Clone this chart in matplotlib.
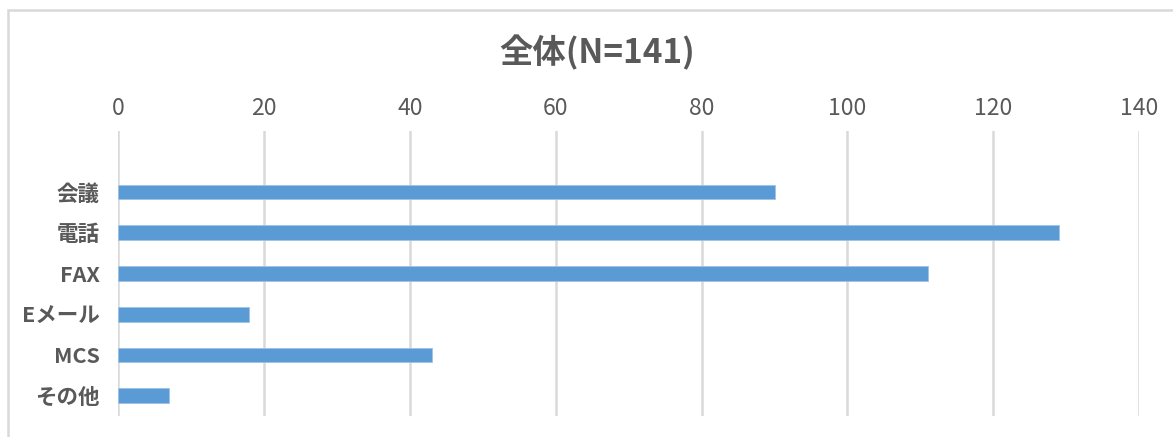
import matplotlib.pyplot as plt
from matplotlib.patches import Rectangle

plt.rcParams['font.family'] = ['Noto Sans CJK JP', 'DejaVu Sans']

# 回答件数
labels = ['会議', '電話', 'FAX', 'Eメール', 'MCS', 'その他']
counts = [90, 129, 111, 18, 43, 7]
ticks = [0, 20, 40, 60, 80, 100, 120, 140]

gray = '#595959'
fig = plt.figure(figsize=(11.73, 4.37), dpi=100)
ax = fig.add_axes([118 / 1173, 21 / 437, (1139.3 - 118) / 1173, (416 - 131) / 437])

# 外枠
fig.patches.append(Rectangle((8 / 1173, -0.1), 1.2, 1 - 10 / 437 + 0.1,
                             transform=fig.transFigure, fill=False,
                             edgecolor='#d9d9d9', linewidth=1.8))

pos = list(range(1, len(labels) + 1))
ax.barh(pos, counts, height=0.36, color='#5b9bd5', edgecolor='#9dc3e6', linewidth=0.6, zorder=3)
ax.set_ylim(6.5, -0.5)
ax.set_xlim(0, 140)

ax.set_yticks(pos)
ax.set_yticklabels(labels, fontsize=15.5, fontweight='bold', color=gray)
ax.set_xticks(ticks)
ax.set_xticklabels([str(t) for t in ticks], fontsize=16.5, color=gray)
ax.xaxis.tick_top()
ax.tick_params(axis='x', length=0, pad=8)
ax.tick_params(axis='y', length=0, pad=13)

ax.grid(axis='x', color='#d9d9d9', linewidth=1.8, zorder=0)
for s in ax.spines.values():
    s.set_visible(False)

fig.text(597 / 1173, 1 - 53 / 437, '全体(N=141)', ha='center', va='center',
         fontsize=24, fontweight='bold', color=gray)

fig.savefig('out.png', dpi=100)
